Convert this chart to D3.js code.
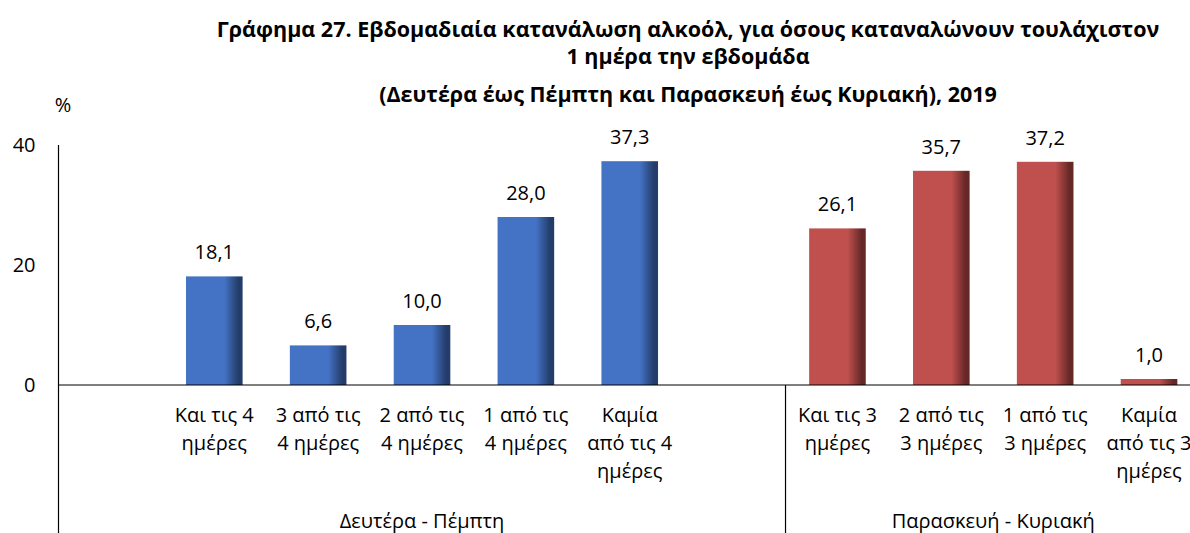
<!DOCTYPE html>
<html>
<head>
<meta charset="utf-8">
<script src="https://cdn.jsdelivr.net/npm/d3@7"></script>
<style>
  body { margin: 0; background: #fff; }
  svg { display: block; font-family: "Open Sans", "Noto Sans", sans-serif; }
</style>
</head>
<body>
<div id="chart"></div>
<script>
// Data
const groupNames = ['Δευτέρα - Πέμπτη', 'Παρασκευή - Κυριακή'];
const weekdayLabels = ['Και τις 4\nημέρες', '3 από τις\n4 ημέρες', '2 από τις\n4 ημέρες', '1 από τις\n4 ημέρες', 'Καμία\nαπό τις 4\nημέρες'];
const weekdayValues = [18.1, 6.6, 10.0, 28.0, 37.3];
const weekendLabels = ['Και τις 3\nημέρες', '2 από τις\n3 ημέρες', '1 από τις\n3 ημέρες', 'Καμία\nαπό τις 3\nημέρες'];
const weekendValues = [26.1, 35.7, 37.2, 1.0];
const yTicks = [0, 20, 40];
const titleLines = [
  'Γράφημα 27. Εβδομαδιαία κατανάλωση αλκοόλ, για όσους καταναλώνουν τουλάχιστον',
  '1 ημέρα την εβδομάδα',
  '(Δευτέρα έως Πέμπτη και Παρασκευή έως Κυριακή), 2019'
];

// Build slots: an empty slot either side of the weekday group
const slots = [];
slots.push({ id: 'g0-blank-a', group: 0, label: '', value: null });
weekdayLabels.forEach((l, i) => slots.push({ id: 'g0-' + i, group: 0, label: l, value: weekdayValues[i] }));
slots.push({ id: 'g0-blank-b', group: 0, label: '', value: null });
weekendLabels.forEach((l, i) => slots.push({ id: 'g1-' + i, group: 1, label: l, value: weekendValues[i] }));

const W = 1190, H = 533;
const x0 = 58.5;
const slotW = 103.86;
const fs = 20;

const svg = d3.select('#chart').append('svg')
  .attr('width', W)
  .attr('height', H);

const x = d3.scaleBand()
  .domain(slots.map(d => d.id))
  .range([x0, x0 + slotW * slots.length])
  .paddingInner(0.455)
  .paddingOuter(0.2275);

const y = d3.scaleLinear()
  .domain([0, 40])
  .range([385, 145]);

const fmt = d3.formatLocale({ decimal: ',', thousands: '.', grouping: [3], currency: ['', '€'] }).format('.1f');

// Gradients for the shaded bars
const defs = svg.append('defs');
const palette = [
  { id: 'gradBlue', base: '#4472c4', dark: '#233c69' },
  { id: 'gradRed', base: '#c0504d', dark: '#652826' }
];
palette.forEach(p => {
  const g = defs.append('linearGradient').attr('id', p.id).attr('x1', 0).attr('x2', 1).attr('y1', 0).attr('y2', 0);
  g.append('stop').attr('offset', 0).attr('stop-color', p.base);
  g.append('stop').attr('offset', 0.68).attr('stop-color', p.base);
  g.append('stop').attr('offset', 0.93).attr('stop-color', p.dark);
  g.append('stop').attr('offset', 1).attr('stop-color', p.dark);
});

// Title
svg.append('g')
  .selectAll('text')
  .data(titleLines)
  .enter()
  .append('text')
  .attr('x', 688)
  .attr('y', (d, i) => [37, 64, 102][i])
  .attr('text-anchor', 'middle')
  .attr('font-size', 21.5)
  .attr('font-weight', 'bold')
  .attr('fill', '#000')
  .text(d => d);

// Y axis labels
const yAxis = svg.append('g')
  .attr('transform', `translate(${x0},0)`)
  .call(d3.axisLeft(y).tickValues(yTicks).tickSize(0).tickPadding(23).tickFormat(d3.format('d')));
yAxis.select('.domain').remove();
yAxis.selectAll('text')
  .attr('font-size', fs)
  .attr('font-family', '"Open Sans", "Noto Sans", sans-serif')
  .attr('fill', '#000');

svg.append('text')
  .attr('x', 63)
  .attr('y', 112)
  .attr('text-anchor', 'middle')
  .attr('font-size', fs)
  .text('%');

// Bars
svg.append('g')
  .selectAll('rect')
  .data(slots.filter(d => d.value !== null))
  .enter()
  .append('rect')
  .attr('x', d => x(d.id))
  .attr('y', d => y(d.value))
  .attr('width', x.bandwidth())
  .attr('height', d => y(0) - y(d.value))
  .attr('fill', d => `url(#${palette[d.group].id})`);

// Value labels
svg.append('g')
  .selectAll('text')
  .data(slots.filter(d => d.value !== null))
  .enter()
  .append('text')
  .attr('x', d => x(d.id) + x.bandwidth() / 2)
  .attr('y', d => y(d.value) - 17)
  .attr('text-anchor', 'middle')
  .attr('font-size', fs)
  .text(d => fmt(d.value));

// Axis lines
svg.append('line')
  .attr('x1', x0).attr('x2', W)
  .attr('y1', y(0)).attr('y2', y(0))
  .attr('stroke', '#000').attr('stroke-width', 1.2);

svg.append('line')
  .attr('x1', x0).attr('x2', x0)
  .attr('y1', y(40)).attr('y2', H)
  .attr('stroke', '#000').attr('stroke-width', 1.2);

// Separator between the two groups
const sepX = x0 + slotW * (weekdayLabels.length + 2);
svg.append('line')
  .attr('x1', sepX).attr('x2', sepX)
  .attr('y1', y(0)).attr('y2', H)
  .attr('stroke', '#000').attr('stroke-width', 1.2);

// Category labels
const cat = svg.append('g')
  .selectAll('text')
  .data(slots.filter(d => d.label !== ''))
  .enter()
  .append('text')
  .attr('text-anchor', 'middle')
  .attr('font-size', fs);

cat.selectAll('tspan')
  .data(d => d.label.split('\n').map(t => ({ t, cx: x(d.id) + x.bandwidth() / 2 })))
  .enter()
  .append('tspan')
  .attr('x', d => d.cx)
  .attr('y', (d, i) => 422 + i * 28)
  .text(d => d.t);

// Group labels
const groupSpans = [
  [x0, sepX],
  [sepX, x0 + slotW * slots.length]
];
svg.append('g')
  .selectAll('text')
  .data(groupNames)
  .enter()
  .append('text')
  .attr('x', (d, i) => (groupSpans[i][0] + groupSpans[i][1]) / 2)
  .attr('y', 528)
  .attr('text-anchor', 'middle')
  .attr('font-size', fs)
  .text(d => d);
</script>
</body>
</html>
